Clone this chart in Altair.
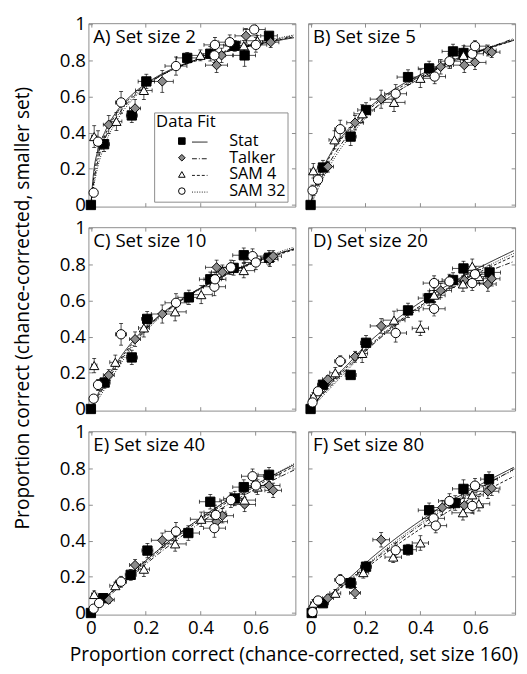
import altair as alt
import pandas as pd

SERIES = ["Stat", "Talker", "SAM 4", "SAM 32"]
FITS = ["Stat fit", "Talker fit", "SAM 4 fit", "SAM 32 fit"]
SHAPES = ["square", "diamond", "triangle-up", "circle"]
FILLS = ["#000000", "#8c8c8c", "#ffffff", "#ffffff"]
DASHES = [[1, 0], [5, 2, 1, 2], [3, 2], [1, 1.5]]
GRAY = "#8c8c8c"
FONT = "Open Sans"

X_TICKS = [0, 0.2, 0.4, 0.6]
Y_TICKS = [0, 0.2, 0.4, 0.6, 0.8, 1.0]
TITLES = ["A) Set size 2", "B) Set size 5", "C) Set size 10",
          "D) Set size 20", "E) Set size 40", "F) Set size 80"]
X_TITLE = "Proportion correct (chance-corrected, set size 160)"
Y_TITLE = "Proportion correct (chance-corrected, smaller set)"

# (x, y, x error, y error)
A_STAT = [(0.0, 0.0, 0, 0), (0.048, 0.336, 0.02, 0.04), (0.149, 0.495, 0.02, 0.04),
          (0.202, 0.683, 0.03, 0.04), (0.351, 0.813, 0.04, 0.03), (0.435, 0.836, 0.04, 0.04),
          (0.524, 0.880, 0.04, 0.03), (0.560, 0.827, 0.04, 0.06), (0.649, 0.935, 0.03, 0.02)]
A_TALKER = [(0.065, 0.444, 0.02, 0.05), (0.161, 0.534, 0.02, 0.05), (0.260, 0.683, 0.04, 0.06),
            (0.458, 0.773, 0.04, 0.04), (0.476, 0.827, 0.04, 0.04), (0.565, 0.935, 0.04, 0.04),
            (0.655, 0.900, 0.03, 0.03)]
A_SAM4 = [(0.012, 0.378, 0.01, 0.06), (0.093, 0.462, 0.02, 0.05), (0.193, 0.633, 0.03, 0.05),
          (0.399, 0.827, 0.04, 0.03), (0.557, 0.880, 0.04, 0.03), (0.607, 0.908, 0.04, 0.03)]
A_SAM32 = [(0.010, 0.068, 0.01, 0.02), (0.026, 0.350, 0.01, 0.06), (0.110, 0.567, 0.02, 0.06),
           (0.310, 0.768, 0.04, 0.05), (0.450, 0.827, 0.04, 0.04), (0.452, 0.885, 0.04, 0.04),
           (0.506, 0.900, 0.04, 0.04), (0.595, 0.970, 0.04, 0.02), (0.601, 0.885, 0.04, 0.04)]

B_STAT = [(0.0, 0.0, 0, 0), (0.045, 0.207, 0.02, 0.04), (0.146, 0.378, 0.02, 0.05),
          (0.202, 0.525, 0.03, 0.04), (0.355, 0.707, 0.04, 0.04), (0.432, 0.755, 0.04, 0.04),
          (0.519, 0.849, 0.04, 0.04), (0.557, 0.840, 0.04, 0.04)]
B_TALKER = [(0.063, 0.212, 0.02, 0.03), (0.162, 0.455, 0.03, 0.04), (0.257, 0.585, 0.04, 0.05),
            (0.474, 0.764, 0.04, 0.04), (0.560, 0.773, 0.04, 0.04), (0.599, 0.788, 0.04, 0.04),
            (0.646, 0.854, 0.03, 0.03), (0.660, 0.845, 0.03, 0.03)]
B_SAM4 = [(0.010, 0.189, 0.01, 0.04), (0.087, 0.360, 0.02, 0.05), (0.188, 0.504, 0.03, 0.05),
          (0.304, 0.567, 0.04, 0.05), (0.400, 0.700, 0.04, 0.05), (0.557, 0.827, 0.04, 0.04)]
B_SAM32 = [(0.007, 0.080, 0.01, 0.03), (0.027, 0.140, 0.01, 0.03), (0.108, 0.419, 0.02, 0.05),
           (0.310, 0.615, 0.04, 0.05), (0.452, 0.710, 0.04, 0.04), (0.506, 0.795, 0.04, 0.04),
           (0.589, 0.836, 0.04, 0.04), (0.599, 0.878, 0.04, 0.03)]

C_STAT = [(0.0, 0.0, 0, 0), (0.050, 0.146, 0.02, 0.03), (0.149, 0.285, 0.02, 0.04),
          (0.205, 0.498, 0.02, 0.04), (0.357, 0.617, 0.04, 0.04), (0.435, 0.717, 0.04, 0.04),
          (0.520, 0.780, 0.04, 0.04), (0.557, 0.850, 0.04, 0.04), (0.649, 0.836, 0.03, 0.04)]
C_TALKER = [(0.065, 0.187, 0.02, 0.03), (0.161, 0.386, 0.02, 0.04), (0.260, 0.525, 0.04, 0.05),
            (0.458, 0.783, 0.04, 0.04), (0.479, 0.756, 0.04, 0.04), (0.652, 0.827, 0.03, 0.04),
            (0.664, 0.845, 0.03, 0.03)]
C_SAM4 = [(0.012, 0.240, 0.01, 0.04), (0.089, 0.258, 0.02, 0.04), (0.193, 0.448, 0.02, 0.05),
          (0.307, 0.537, 0.04, 0.05), (0.402, 0.632, 0.04, 0.05), (0.557, 0.765, 0.04, 0.04)]
C_SAM32 = [(0.010, 0.057, 0.01, 0.02), (0.026, 0.133, 0.01, 0.03), (0.110, 0.413, 0.02, 0.06),
           (0.310, 0.587, 0.04, 0.05), (0.450, 0.676, 0.04, 0.05), (0.452, 0.717, 0.04, 0.04),
           (0.510, 0.783, 0.04, 0.04), (0.589, 0.845, 0.04, 0.04), (0.601, 0.810, 0.04, 0.04)]

D_STAT = [(0.0, 0.0, 0, 0), (0.045, 0.134, 0.02, 0.02), (0.146, 0.188, 0.02, 0.02),
          (0.202, 0.366, 0.02, 0.04), (0.355, 0.545, 0.04, 0.04), (0.432, 0.613, 0.04, 0.04),
          (0.519, 0.713, 0.04, 0.04), (0.557, 0.777, 0.04, 0.04), (0.652, 0.755, 0.04, 0.04)]
D_TALKER = [(0.063, 0.164, 0.02, 0.02), (0.162, 0.289, 0.02, 0.03), (0.257, 0.459, 0.04, 0.04),
            (0.474, 0.655, 0.04, 0.04), (0.560, 0.713, 0.04, 0.04), (0.646, 0.691, 0.03, 0.04),
            (0.660, 0.720, 0.03, 0.04)]
D_SAM4 = [(0.010, 0.070, 0.01, 0.02), (0.090, 0.200, 0.02, 0.03), (0.188, 0.307, 0.02, 0.05),
          (0.304, 0.491, 0.04, 0.05), (0.400, 0.446, 0.03, 0.04), (0.450, 0.629, 0.04, 0.04),
          (0.555, 0.691, 0.04, 0.04), (0.589, 0.789, 0.04, 0.04), (0.613, 0.732, 0.04, 0.04)]
D_SAM32 = [(0.007, 0.036, 0.01, 0.02), (0.027, 0.098, 0.01, 0.02), (0.108, 0.264, 0.02, 0.03),
           (0.310, 0.420, 0.04, 0.05), (0.450, 0.554, 0.04, 0.04), (0.450, 0.696, 0.04, 0.04),
           (0.506, 0.705, 0.04, 0.04), (0.589, 0.696, 0.04, 0.04), (0.599, 0.745, 0.04, 0.04)]

E_STAT = [(0.0, 0.0, 0, 0), (0.045, 0.082, 0.02, 0.02), (0.145, 0.211, 0.02, 0.03),
          (0.206, 0.345, 0.02, 0.04), (0.355, 0.442, 0.04, 0.04), (0.435, 0.615, 0.04, 0.04),
          (0.524, 0.633, 0.04, 0.04), (0.557, 0.696, 0.04, 0.04), (0.649, 0.764, 0.04, 0.04)]
E_TALKER = [(0.065, 0.073, 0.02, 0.02), (0.161, 0.265, 0.02, 0.03), (0.260, 0.402, 0.04, 0.04),
            (0.458, 0.505, 0.04, 0.05), (0.479, 0.538, 0.04, 0.04), (0.560, 0.600, 0.04, 0.04),
            (0.649, 0.705, 0.04, 0.04), (0.664, 0.678, 0.03, 0.04)]
E_SAM4 = [(0.012, 0.102, 0.01, 0.02), (0.089, 0.151, 0.02, 0.02), (0.193, 0.242, 0.02, 0.04),
          (0.307, 0.382, 0.04, 0.04), (0.402, 0.518, 0.04, 0.04), (0.452, 0.556, 0.04, 0.04),
          (0.560, 0.624, 0.04, 0.04), (0.607, 0.696, 0.04, 0.04)]
E_SAM32 = [(0.010, 0.024, 0.01, 0.01), (0.030, 0.055, 0.01, 0.02), (0.110, 0.173, 0.02, 0.03),
           (0.310, 0.451, 0.04, 0.05), (0.450, 0.469, 0.04, 0.05), (0.455, 0.542, 0.04, 0.04),
           (0.510, 0.624, 0.04, 0.04), (0.589, 0.756, 0.04, 0.04), (0.601, 0.705, 0.04, 0.04)]

F_STAT = [(0.004, 0.0, 0, 0), (0.045, 0.054, 0.02, 0.02), (0.146, 0.165, 0.02, 0.03),
          (0.202, 0.256, 0.02, 0.03), (0.355, 0.350, 0.03, 0.03), (0.432, 0.568, 0.04, 0.04),
          (0.527, 0.608, 0.04, 0.04), (0.557, 0.686, 0.04, 0.05), (0.650, 0.740, 0.03, 0.04)]
F_TALKER = [(0.063, 0.082, 0.02, 0.02), (0.162, 0.111, 0.02, 0.03), (0.257, 0.405, 0.03, 0.04),
            (0.480, 0.583, 0.04, 0.04), (0.560, 0.595, 0.04, 0.04), (0.646, 0.673, 0.04, 0.04),
            (0.660, 0.690, 0.03, 0.04)]
F_SAM4 = [(0.010, 0.054, 0.01, 0.02), (0.090, 0.109, 0.02, 0.02), (0.192, 0.223, 0.02, 0.03),
          (0.301, 0.309, 0.03, 0.03), (0.400, 0.387, 0.03, 0.04), (0.555, 0.554, 0.04, 0.04),
          (0.589, 0.653, 0.04, 0.04), (0.613, 0.604, 0.04, 0.04)]
F_SAM32 = [(0.007, 0.005, 0.005, 0.01), (0.027, 0.069, 0.01, 0.02), (0.108, 0.183, 0.02, 0.03),
           (0.310, 0.347, 0.03, 0.04), (0.448, 0.523, 0.04, 0.04), (0.456, 0.483, 0.04, 0.04),
           (0.506, 0.619, 0.04, 0.04), (0.589, 0.592, 0.04, 0.04), (0.599, 0.704, 0.04, 0.04)]

# model fits, read at these x positions
FIT_X = [0.0, 0.01, 0.025, 0.05, 0.1, 0.15, 0.2, 0.3, 0.4, 0.5, 0.6, 0.74]
A_FIT_STAT = [0.0, 0.18, 0.30, 0.40, 0.53, 0.61, 0.67, 0.755, 0.81, 0.85, 0.885, 0.925]
A_FIT_TALKER = [0.0, 0.12, 0.24, 0.36, 0.50, 0.59, 0.66, 0.75, 0.81, 0.855, 0.89, 0.935]
A_FIT_SAM4 = [0.0, 0.15, 0.27, 0.38, 0.52, 0.60, 0.665, 0.75, 0.805, 0.85, 0.885, 0.93]
A_FIT_SAM32 = [0.0, 0.10, 0.21, 0.33, 0.48, 0.58, 0.655, 0.75, 0.81, 0.855, 0.895, 0.94]
B_FIT_STAT = [0.0, 0.07, 0.14, 0.22, 0.35, 0.44, 0.52, 0.635, 0.72, 0.79, 0.845, 0.91]
B_FIT_TALKER = [0.0, 0.04, 0.10, 0.18, 0.31, 0.41, 0.49, 0.61, 0.70, 0.78, 0.84, 0.92]
B_FIT_SAM4 = [0.0, 0.06, 0.13, 0.21, 0.34, 0.43, 0.51, 0.625, 0.71, 0.785, 0.84, 0.91]
B_FIT_SAM32 = [0.0, 0.03, 0.08, 0.16, 0.29, 0.39, 0.48, 0.61, 0.70, 0.78, 0.845, 0.915]
C_FIT_STAT = [0.0, 0.03, 0.08, 0.15, 0.27, 0.37, 0.45, 0.575, 0.67, 0.75, 0.815, 0.885]
C_FIT_TALKER = [0.0, 0.02, 0.06, 0.13, 0.25, 0.35, 0.44, 0.57, 0.67, 0.75, 0.815, 0.885]
C_FIT_SAM4 = [0.0, 0.03, 0.07, 0.14, 0.26, 0.36, 0.445, 0.57, 0.665, 0.745, 0.81, 0.88]
C_FIT_SAM32 = [0.0, 0.02, 0.05, 0.11, 0.23, 0.34, 0.43, 0.565, 0.665, 0.75, 0.82, 0.895]
D_FIT_STAT = [0.0, 0.02, 0.05, 0.10, 0.19, 0.27, 0.35, 0.48, 0.59, 0.685, 0.77, 0.875]
D_FIT_TALKER = [0.0, 0.02, 0.05, 0.09, 0.17, 0.25, 0.32, 0.45, 0.56, 0.655, 0.73, 0.815]
D_FIT_SAM4 = [0.0, 0.02, 0.05, 0.10, 0.18, 0.26, 0.33, 0.46, 0.57, 0.665, 0.745, 0.845]
D_FIT_SAM32 = [0.0, 0.02, 0.04, 0.08, 0.16, 0.24, 0.32, 0.455, 0.57, 0.67, 0.755, 0.86]
E_FIT_STAT = [0.0, 0.015, 0.04, 0.08, 0.155, 0.225, 0.29, 0.415, 0.525, 0.625, 0.71, 0.82]
E_FIT_TALKER = [0.0, 0.015, 0.035, 0.07, 0.14, 0.205, 0.27, 0.39, 0.50, 0.60, 0.685, 0.79]
E_FIT_SAM4 = [0.0, 0.015, 0.04, 0.075, 0.15, 0.215, 0.28, 0.405, 0.515, 0.615, 0.70, 0.81]
E_FIT_SAM32 = [0.0, 0.015, 0.04, 0.08, 0.155, 0.225, 0.29, 0.415, 0.525, 0.625, 0.71, 0.825]
F_FIT_STAT = [0.0, 0.015, 0.035, 0.07, 0.14, 0.205, 0.275, 0.40, 0.51, 0.61, 0.695, 0.805]
F_FIT_TALKER = [0.0, 0.013, 0.03, 0.065, 0.13, 0.19, 0.255, 0.375, 0.485, 0.585, 0.675, 0.795]
F_FIT_SAM4 = [0.0, 0.012, 0.03, 0.06, 0.125, 0.185, 0.245, 0.36, 0.465, 0.56, 0.645, 0.755]
F_FIT_SAM32 = [0.0, 0.013, 0.03, 0.065, 0.13, 0.195, 0.26, 0.385, 0.495, 0.595, 0.68, 0.79]

PANEL_POINTS = [
    [A_STAT, A_TALKER, A_SAM4, A_SAM32], [B_STAT, B_TALKER, B_SAM4, B_SAM32],
    [C_STAT, C_TALKER, C_SAM4, C_SAM32], [D_STAT, D_TALKER, D_SAM4, D_SAM32],
    [E_STAT, E_TALKER, E_SAM4, E_SAM32], [F_STAT, F_TALKER, F_SAM4, F_SAM32],
]
PANEL_FITS = [
    [A_FIT_STAT, A_FIT_TALKER, A_FIT_SAM4, A_FIT_SAM32],
    [B_FIT_STAT, B_FIT_TALKER, B_FIT_SAM4, B_FIT_SAM32],
    [C_FIT_STAT, C_FIT_TALKER, C_FIT_SAM4, C_FIT_SAM32],
    [D_FIT_STAT, D_FIT_TALKER, D_FIT_SAM4, D_FIT_SAM32],
    [E_FIT_STAT, E_FIT_TALKER, E_FIT_SAM4, E_FIT_SAM32],
    [F_FIT_STAT, F_FIT_TALKER, F_FIT_SAM4, F_FIT_SAM32],
]

W = 211
H = 187
XS = alt.Scale(domain=[-0.009, 0.745], nice=False, zero=False)
YS = alt.Scale(domain=[-0.009, 1.005], nice=False, zero=False)


def x_axis(orient, labels, title=None):
    kw = dict(orient=orient, values=X_TICKS, format="~g", labels=labels, domain=False,
              grid=False, ticks=True, tickSize=4, offset=-4, tickColor=GRAY, tickWidth=1,
              labelPadding=4, title=title)
    if title:
        kw.update(titleX=209, titleY=45, titleAlign="center", titleBaseline="middle")
    return alt.Axis(**kw)


def y_axis(orient, labels, title=None):
    kw = dict(orient=orient, values=Y_TICKS, format="~g", labels=labels, domain=False,
              grid=False, ticks=True, tickSize=4, offset=-4, tickColor=GRAY, tickWidth=1,
              labelPadding=3, title=title)
    if title:
        kw.update(titleX=-71, titleY=82, titleAngle=270, titleAlign="center",
                  titleBaseline="middle")
    return alt.Axis(**kw)


def panel(i):
    pts_rows, xcap_rows, ycap_rows = [], [], []
    for s, pts in zip(SERIES, PANEL_POINTS[i]):
        for (x, y, ex, ey) in pts:
            pts_rows.append(dict(series=s, x=x, y=y, xlo=x - ex, xhi=x + ex,
                                 ylo=y - ey, yhi=y + ey))
            if ex > 0:
                xcap_rows += [dict(x=x - ex, y=y), dict(x=x + ex, y=y)]
            if ey > 0:
                ycap_rows += [dict(x=x, y=y - ey), dict(x=x, y=y + ey)]
    pdf = pd.DataFrame(pts_rows)
    xcap = pd.DataFrame(xcap_rows)
    ycap = pd.DataFrame(ycap_rows)
    fit_rows = []
    for f, ys in zip(FITS, PANEL_FITS[i]):
        for x, y in zip(FIT_X, ys):
            fit_rows.append(dict(fit=f, x=x, y=y))
    fdf = pd.DataFrame(fit_rows)

    col = i % 2
    row = i // 2
    show_x = row == 2
    show_y = col == 0
    legend_on = i == 0

    xt = X_TITLE if i == 4 else None
    yt = Y_TITLE if i == 2 else None

    if legend_on:
        leg = alt.Legend(title="Data Fit", orient="none", legendX=67, legendY=91,
                         direction="vertical", symbolSize=45, symbolStrokeWidth=1,
                         symbolOffset=18, labelOffset=40, labelFontSize=16.5,
                         padding=2, titlePadding=2, rowPadding=0, clipHeight=16.4,
                         strokeColor=GRAY)
        dleg = alt.Legend(title=None, orient="none", legendX=105, legendY=113,
                          direction="vertical", symbolType="stroke", symbolSize=250,
                          symbolStrokeWidth=0.9, symbolStrokeColor="black",
                          labelExpr="''", labelFontSize=16.5, padding=0, rowPadding=0,
                          clipHeight=16.4)
    else:
        leg = None
        dleg = None

    xbars = alt.Chart(pdf).mark_rule(color="black", strokeWidth=0.7).encode(
        x=alt.X("xlo:Q", scale=XS, axis=None), x2="xhi:Q",
        y=alt.Y("y:Q", scale=YS, axis=None))
    ybars = alt.Chart(pdf).mark_rule(color="black", strokeWidth=0.7).encode(
        x=alt.X("x:Q", scale=XS, axis=None),
        y=alt.Y("ylo:Q", scale=YS, axis=None), y2="yhi:Q")
    xcaps = alt.Chart(xcap).mark_tick(color="black", orient="vertical", size=4,
                                      thickness=0.7, opacity=1).encode(
        x=alt.X("x:Q", scale=XS, axis=None), y=alt.Y("y:Q", scale=YS, axis=None))
    ycaps = alt.Chart(ycap).mark_tick(color="black", orient="horizontal", size=4,
                                      thickness=0.7, opacity=1).encode(
        x=alt.X("x:Q", scale=XS, axis=None), y=alt.Y("y:Q", scale=YS, axis=None))

    lines = alt.Chart(fdf).mark_line(color="black", strokeWidth=0.9,
                                     interpolate="monotone", clip=True).encode(
        x=alt.X("x:Q", scale=XS, axis=x_axis("bottom", show_x, xt)),
        y=alt.Y("y:Q", scale=YS, axis=y_axis("left", show_y, yt)),
        strokeDash=alt.StrokeDash("fit:N", scale=alt.Scale(domain=FITS, range=DASHES),
                                  legend=dleg),
    )

    points = alt.Chart(pdf).mark_point(filled=True, size=90, strokeWidth=1,
                                       opacity=1).encode(
        x=alt.X("x:Q", scale=XS, axis=x_axis("top", False)),
        y=alt.Y("y:Q", scale=YS, axis=y_axis("right", False)),
        shape=alt.Shape("series:N", scale=alt.Scale(domain=SERIES, range=SHAPES),
                        legend=leg),
        fill=alt.Fill("series:N", scale=alt.Scale(domain=SERIES, range=FILLS),
                      legend=leg),
        stroke=alt.Stroke("series:N", scale=alt.Scale(domain=SERIES, range=["black"] * 4),
                          legend=leg),
    )

    label = alt.Chart(pd.DataFrame({"t": [TITLES[i]]})).mark_text(
        align="left", baseline="middle", fontSize=19, font=FONT, color="black").encode(
        text="t:N", x=alt.value(5), y=alt.value(14))

    return alt.layer(xbars, ybars, xcaps, ycaps, lines, points, label).resolve_axis(
        x="independent", y="independent").properties(width=W, height=H)


RES = dict(shape="independent", fill="independent", stroke="independent",
           strokeDash="independent")

chart = alt.concat(*[panel(i) for i in range(6)], columns=2,
                   spacing={"row": 21, "column": 13}, bounds="flush").resolve_legend(
    **RES).properties(
    padding={"left": 4, "top": 0, "right": 0, "bottom": 0}
).configure_view(stroke=GRAY, strokeWidth=1).configure_axis(
    labelFont=FONT, labelFontSize=19, labelColor="black",
    titleFont=FONT, titleFontSize=19.5, titleFontWeight="normal", titleColor="black"
).configure_legend(
    labelFont=FONT, labelFontSize=16.5, labelColor="black",
    titleFont=FONT, titleFontSize=17, titleFontWeight="normal", titleColor="black"
)

chart.save("out.html", embed_options={"renderer": "svg", "actions": False})
